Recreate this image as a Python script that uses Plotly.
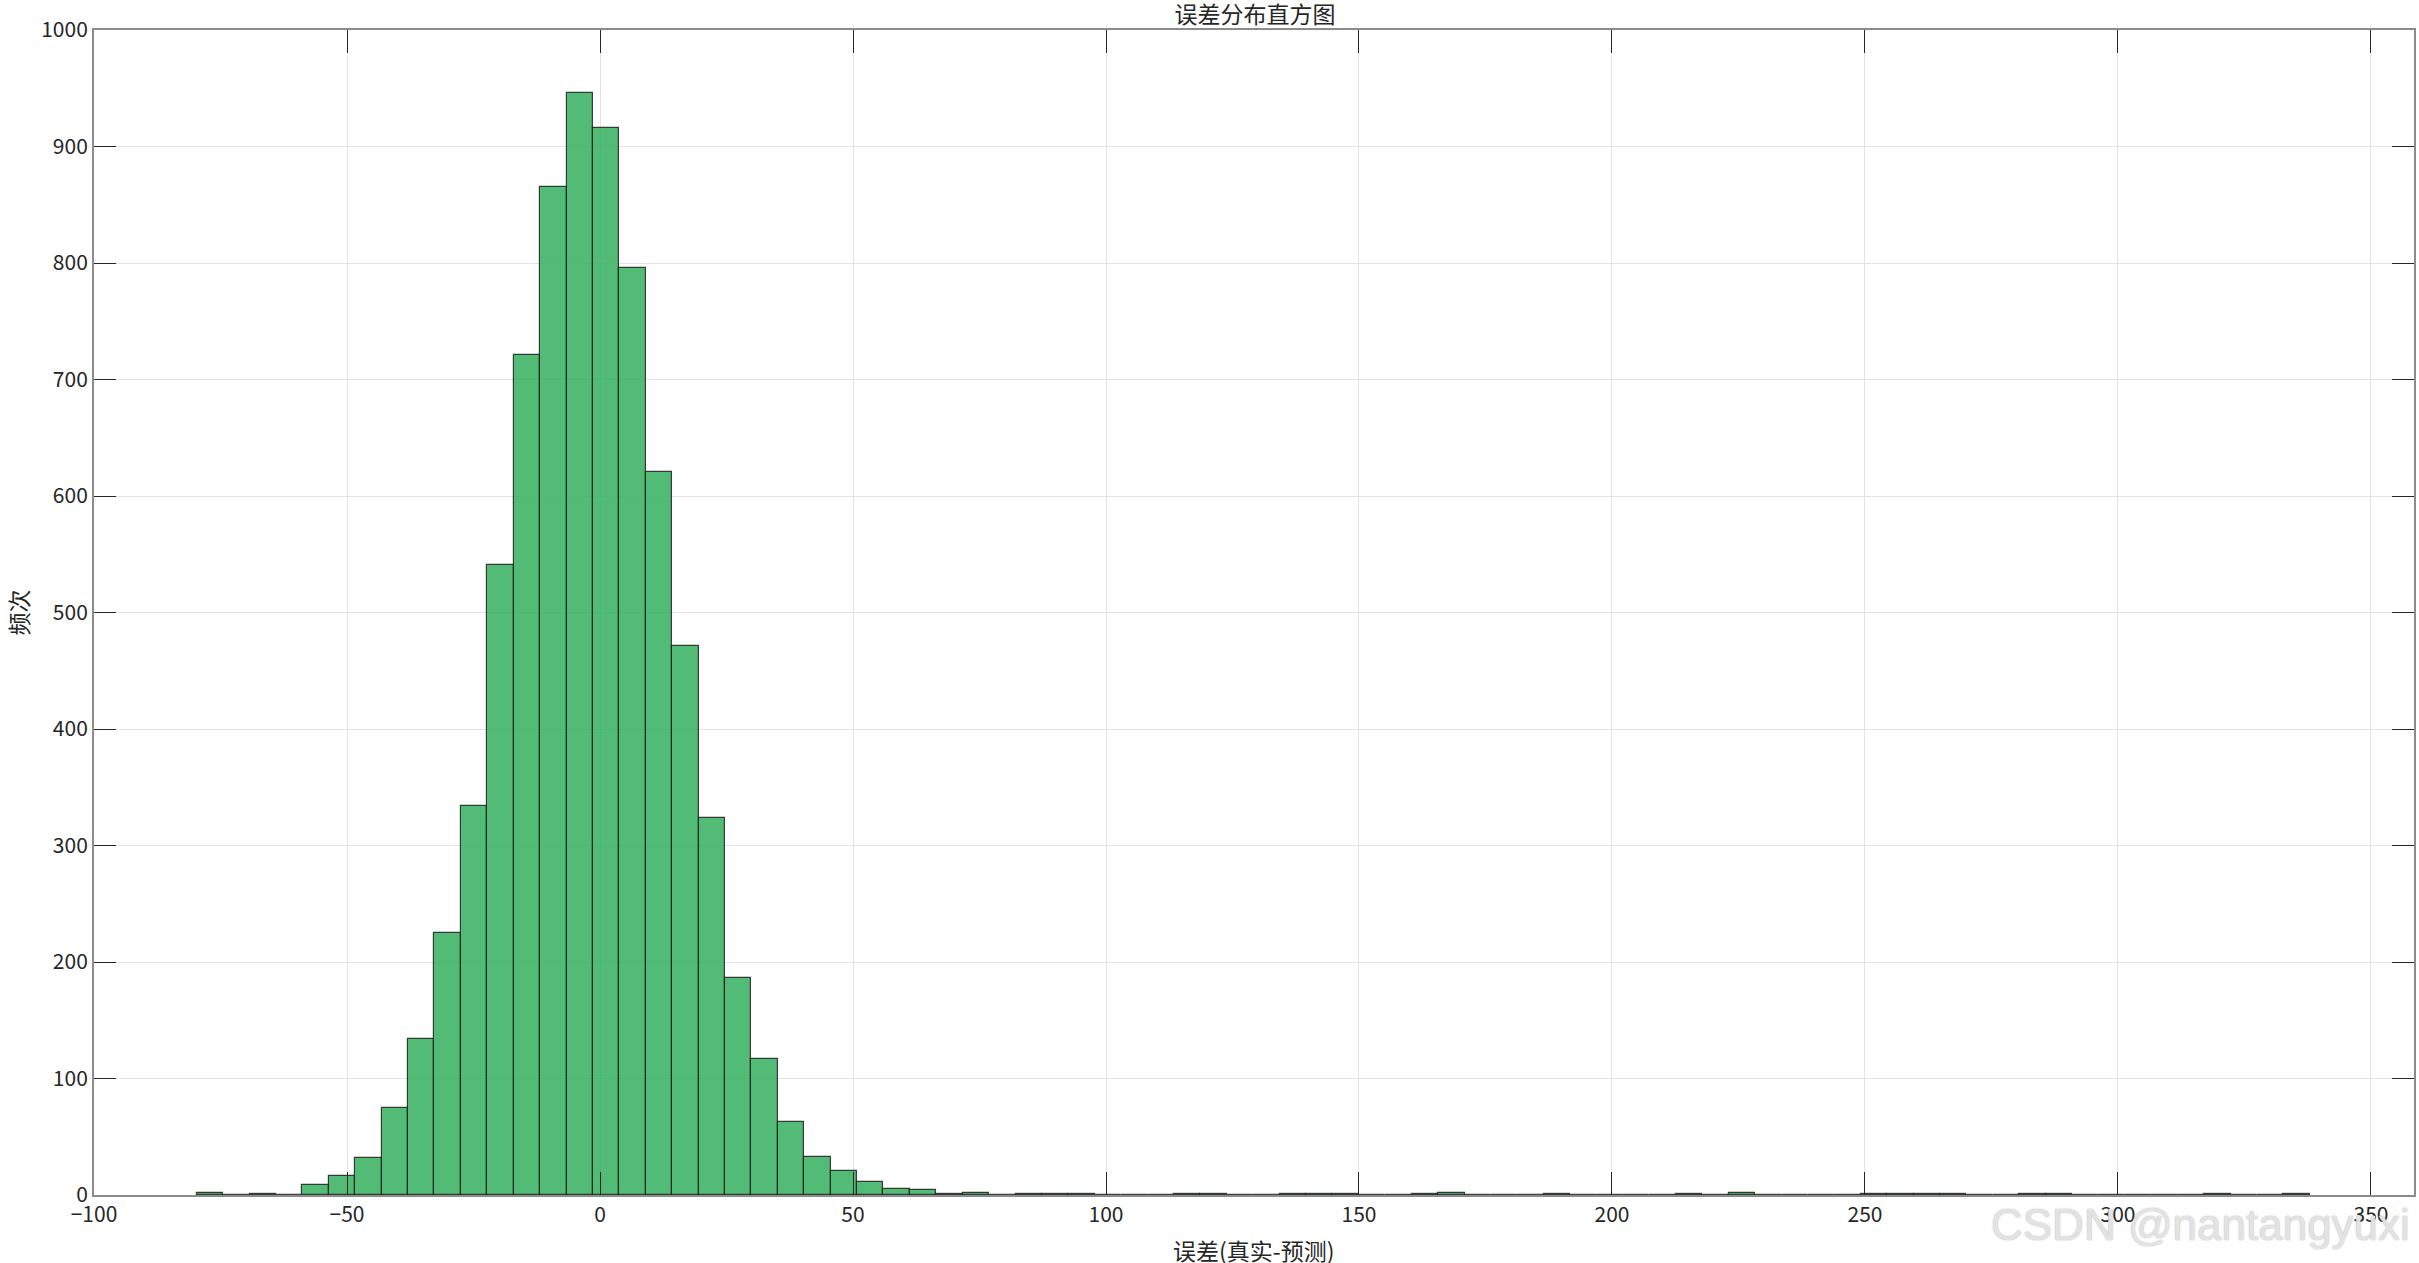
import plotly.graph_objects as go

# ---- data (80 bins) ----
bin_start = -79.7
bin_width = 5.22
counts = [
    2, 0, 1, 0, 9, 16, 32, 75, 134, 225,
    334, 541, 721, 865, 946, 916, 796, 621, 471, 324,
    186, 117, 63, 33, 21, 11, 5, 4, 1, 2,
    0, 1, 1, 1, 0, 0, 0, 1, 1, 0,
    0, 1, 1, 1, 0, 0, 1, 2, 0, 0,
    0, 1, 0, 0, 0, 0, 1, 0, 2, 0,
    0, 0, 0, 1, 1, 1, 1, 0, 0, 1,
    1, 0, 0, 0, 0, 0, 1, 0, 0, 1,
]
x_ticks = [-100, -50, 0, 50, 100, 150, 200, 250, 300, 350]
y_ticks = [0, 100, 200, 300, 400, 500, 600, 700, 800, 900, 1000]
title_text = "误差分布直方图"
x_label = "误差(真实-预测)"
y_label = "频次"
watermark = "CSDN @nantangyuxi"

centers = [bin_start + bin_width * (i + 0.5) for i in range(len(counts))]

W, H = 2419, 1263
L, R, T, B = 94, 3, 30, 68
FONT = "Noto Sans CJK SC, Noto Sans, sans-serif"

fig = go.Figure()
fig.add_trace(go.Bar(
    x=centers, y=counts, width=bin_width,
    marker=dict(color="rgba(39,171,84,0.8)",
                line=dict(color="rgba(30,30,30,0.85)", width=1.2)),
    hoverinfo="x+y",
))

axis_common = dict(
    showline=True, linecolor="#8c8c8c", linewidth=2, mirror="allticks",
    ticks="inside", tickcolor="#262626", tickwidth=1.3,
    showgrid=True, gridcolor="#e3e3e3", gridwidth=1,
    zeroline=False,
    tickfont=dict(family=FONT, size=21, color="#262626"),
)

fig.update_layout(
    width=W, height=H,
    margin=dict(l=L, r=R, t=T, b=B, pad=0),
    paper_bgcolor="white", plot_bgcolor="white",
    bargap=0, showlegend=False,
    title=dict(text=title_text, x=(L + (W - R)) / 2 / W, xanchor="center",
               y=1 - 15 / H, yanchor="middle", yref="container",
               font=dict(family=FONT, size=23, color="#262626")),
    xaxis=dict(range=[-100, 358.5], tickvals=x_ticks, ticklen=23, **axis_common),
    yaxis=dict(range=[0, 1000], tickvals=y_ticks, ticklen=22, **axis_common),
    annotations=[
        dict(text=x_label, xref="paper", yref="paper", x=0.5, y=0,
             xanchor="center", yanchor="middle", yshift=-55, showarrow=False,
             font=dict(family=FONT, size=23, color="#262626")),
        dict(text=y_label, xref="paper", yref="paper", x=0, y=0.5,
             xanchor="center", yanchor="middle", xshift=-77, textangle=-90,
             showarrow=False,
             font=dict(family=FONT, size=23, color="#262626")),
        dict(text=watermark, xref="paper", yref="paper", x=1, y=0,
             xanchor="right", yanchor="middle", xshift=-2, yshift=-29,
             showarrow=False,
             font=dict(family="Liberation Sans, Arial, sans-serif", size=44,
                       color="rgba(235,235,235,0.9)",
                       shadow="0px 0px 1.5px #9a9a9a")),
    ],
)

fig.write_html("out.html",
               config={"displayModeBar": False},
               post_script="document.body.style.margin='0';document.body.style.padding='0';")
